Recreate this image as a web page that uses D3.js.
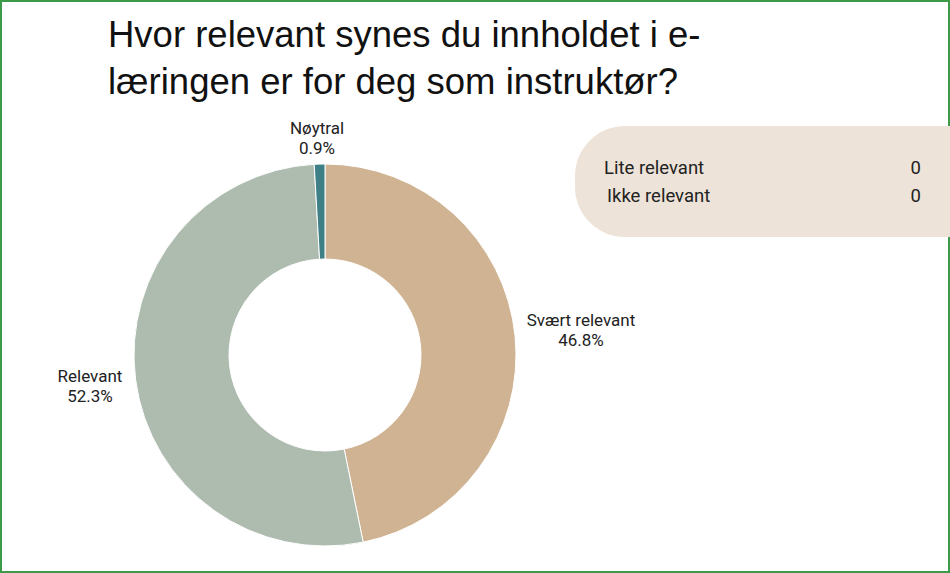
<!DOCTYPE html>
<html><head><meta charset="utf-8">
<script src="https://cdn.jsdelivr.net/npm/d3@7"></script>
<style>body{margin:0;background:#fff}svg{display:block}</style>
</head><body>
<svg id="c" width="950" height="573"></svg>
<script>
const categories = ['Svært relevant', 'Relevant', 'Nøytral'];
const values = [46.8, 52.3, 0.9];
const colors = ['#cfb393', '#adbcaf', '#3f7f86'];
const legendLabels = ['Lite relevant', 'Ikke relevant'];
const legendValues = [0, 0];

const svg = d3.select('#c');
svg.append('rect').attr('x', 1).attr('y', 1).attr('width', 948).attr('height', 571)
  .attr('fill', 'none').attr('stroke', '#3c9a48').attr('stroke-width', 2);

svg.append('text').attr('font-family', 'Liberation Sans, Arial, sans-serif').attr('font-size', 36.5).attr('fill', '#111')
  .selectAll('tspan').data(['Hvor relevant synes du innholdet i e-', 'læringen er for deg som instruktør?'])
  .join('tspan').attr('x', 108).attr('y', (d, i) => 47 + i * 47).text(d => d);

const cx = 325, cy = 355, r = 191, ir = 96;
const pie = d3.pie().sort(null)(values);
const arc = d3.arc().innerRadius(ir).outerRadius(r);
const g = svg.append('g').attr('transform', `translate(${cx},${cy})`);
g.selectAll('path').data(pie).join('path').attr('d', arc).attr('fill', (d, i) => colors[i])
  .attr('stroke', '#fff').attr('stroke-width', 1);

const labelPos = [[581, 320], [90, 376], [317, 128]];
const lab = svg.append('g').attr('font-family', 'Roboto, sans-serif').attr('font-size', 17).attr('fill', '#222').attr('text-anchor', 'middle');
categories.forEach((c, i) => {
  const t = lab.append('text');
  t.append('tspan').attr('x', labelPos[i][0]).attr('y', labelPos[i][1] + 6).text(c);
  t.append('tspan').attr('x', labelPos[i][0]).attr('y', labelPos[i][1] + 26).text(values[i].toFixed(1) + '%');
});

svg.append('rect').attr('x', 575).attr('y', 126).attr('width', 440).attr('height', 111).attr('rx', 50)
  .attr('fill', '#ede3d8');
const lg = svg.append('g').attr('font-family', 'Roboto, sans-serif').attr('font-size', 18.5).attr('fill', '#222');
legendLabels.forEach((l, i) => {
  lg.append('text').attr('x', i ? 607 : 604).attr('y', 174 + i * 28).text(l);
  lg.append('text').attr('x', 921).attr('y', 174 + i * 28).attr('text-anchor', 'end').text(legendValues[i]);
});
</script>
</body></html>
